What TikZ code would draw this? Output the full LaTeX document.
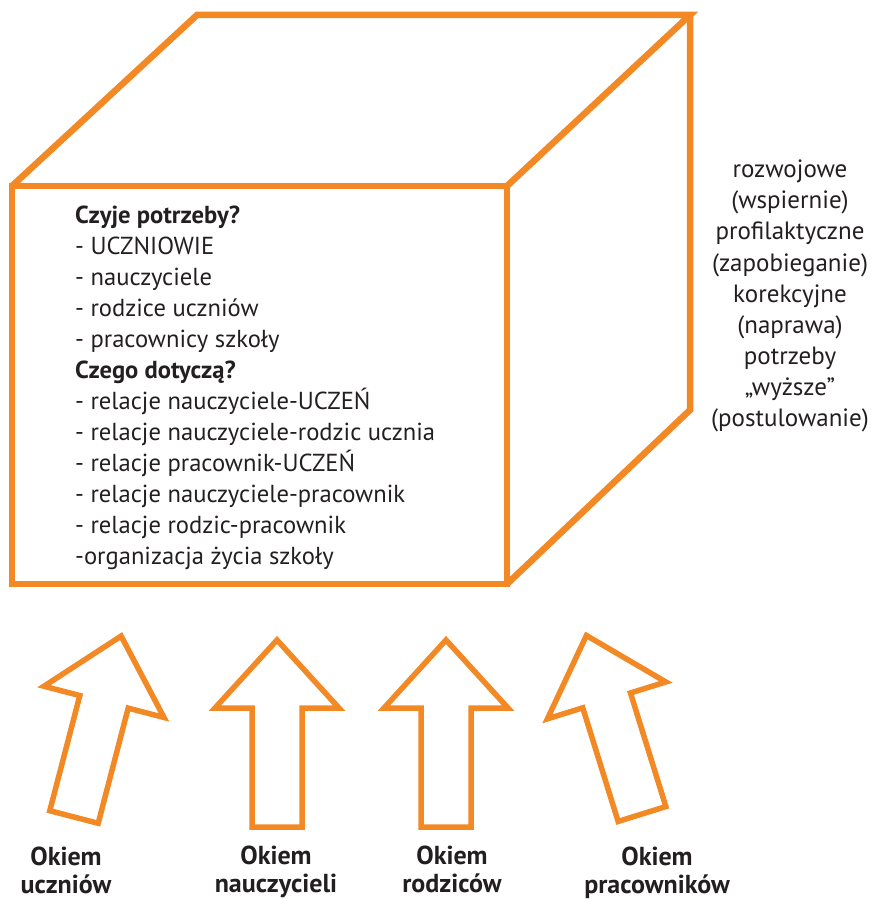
\documentclass[tikz,border=0pt]{standalone}
\usepackage{fontspec}
\setmainfont{PT Sans}
\definecolor{boxorange}{RGB}{242,137,37}
\definecolor{inkgray}{RGB}{35,31,32}

\tikzset{
    cube edge/.style={draw=boxorange, line width=6.5pt, line join=miter},
    okiem arrow/.style={draw=boxorange, line width=5.5pt, line join=miter},
    need line/.style={font=\fontsize{24.6}{31}\selectfont, text=inkgray, inner sep=0pt, anchor=base west},
    kind line/.style={font=\fontsize{25}{31}\selectfont, text=inkgray, inner sep=0pt, anchor=base},
    view label/.style={font=\fontsize{26}{30}\selectfont\bfseries, text=inkgray, inner sep=0pt, anchor=base}
}

\begin{document}
\begin{tikzpicture}[x=1pt,y=-1pt]
                \useasboundingbox (0,0) rectangle (872,901);

                \coordinate (ftl) at (12,186);
                \coordinate (ftr) at (507,186);
                \coordinate (fbr) at (507,584);
                \coordinate (fbl) at (12,584);
                \coordinate (btl) at (197,15);
                \coordinate (btr) at (690,15);
                \coordinate (bbr) at (690,410);

                \draw[cube edge] (ftl) -- (ftr) -- (fbr) -- (fbl) -- cycle;
                \draw[cube edge] (ftl) -- (btl) -- (btr) -- (ftr);
                \draw[cube edge] (btr) -- (bbr) -- (fbr);

                \foreach \txt [count=\i from 0] in {\bfseries Czyje potrzeby?, - UCZNIOWIE, - nauczyciele,
                        - rodzice uczniów, - pracownicy szkoły, \bfseries Czego dotyczą?,
                        - relacje nauczyciele-UCZEŃ, - relacje nauczyciele-rodzic ucznia,
                        - relacje pracownik-UCZEŃ, - relacje nauczyciele-pracownik,
                        - relacje rodzic-pracownik, -organizacja życia szkoły}
                    \node[need line] (need\i) at (75,223+31*\i) {\txt};

                \foreach \txt [count=\i from 0] in {rozwojowe, (wspiernie), profilaktyczne, (zapobieganie),
                        korekcyjne, (naprawa), potrzeby, „wyższe”, (postulowanie)}
                    \node[kind line] (kind\i) at (790,178+31*\i) {\txt};

                \foreach \x/\y/\a [count=\i] in {74/817/-14.6, 277/827/0, 446/827/0, 642/814/17.3}
                    \draw[okiem arrow, shift={(\x,\y)}, rotate=\a]
                        (-25,0) -- (25,0) -- (25,-119) -- (62,-119) -- (0,-187) -- (-62,-119) -- (-25,-119) -- cycle;

                \node[view label] (okiem1) at (66,865) {Okiem};
                \node[view label] (who1) at (66,893) {uczniów};
                \node[view label] (okiem2) at (276,864) {Okiem};
                \node[view label] (who2) at (276,892) {nauczycieli};
                \node[view label] (okiem3) at (452,864) {Okiem};
                \node[view label] (who3) at (452,892) {rodziców};
                \node[view label] (okiem4) at (657,865) {Okiem};
                \node[view label] (who4) at (657,893) {pracowników};
            \end{tikzpicture}
\end{document}
